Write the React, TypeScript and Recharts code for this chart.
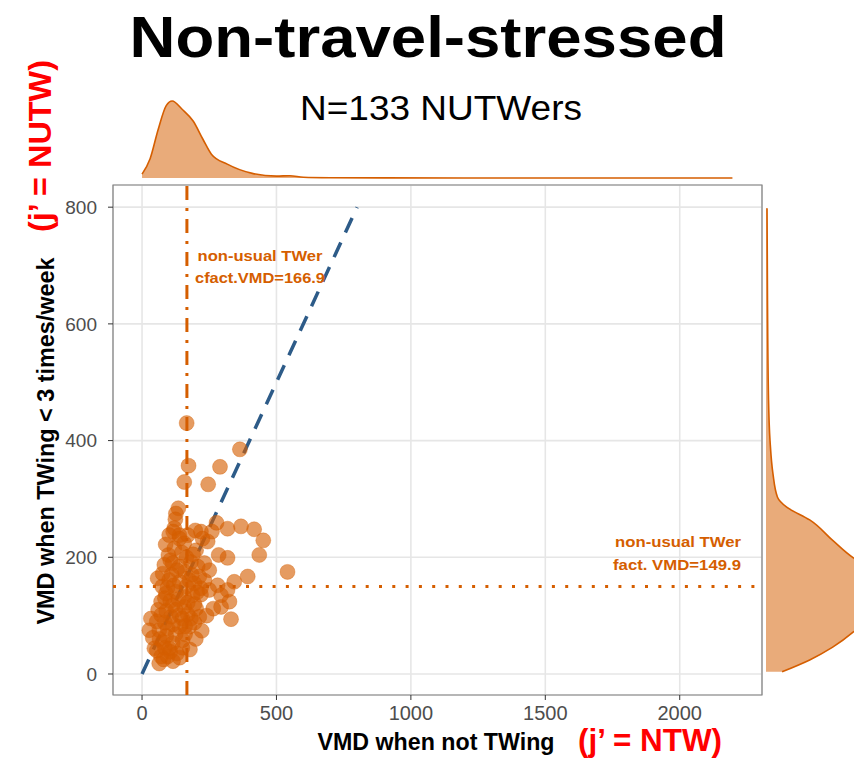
import { ScatterChart, Scatter, XAxis, YAxis, CartesianGrid, ReferenceLine, ReferenceArea, AreaChart, Area } from 'recharts';

const ORANGE = '#d55e00';
const BLUE = '#2d5b88';
const FONT = '"Liberation Sans", Arial, sans-serif';

// VMD when not TWing, one value per NUTWer
const ntwVmd = [
  166, 364, 173, 290, 157, 246, 135, 126, 124, 277, 368, 318, 417, 451, 198, 219, 260, 116, 139, 157,
  244, 225, 436, 318, 285, 541, 393, 343, 281, 250, 219, 318, 325, 294, 265, 331, 222, 178, 98, 58,
  77, 33, 27, 46, 64, 71, 101,
  101, 139, 170, 201, 114, 83, 139, 182, 207, 232, 250, 101, 176, 213, 219, 89, 126, 157, 188, 294,
  71, 114, 157, 201, 71, 108, 139, 182, 213, 64, 95, 139, 176, 77, 114, 151, 95,
  88, 120, 148, 165, 190, 105, 130, 160, 185, 110, 75, 95, 118, 140, 165, 195, 85, 105, 135, 170,
  195, 60, 90, 125, 150, 170, 55, 85, 115, 160, 195, 40, 65, 90, 125, 160, 200, 55, 85, 105,
  130, 150, 80, 115, 140, 232, 205, 240, 120,
];

// VMD when TWing < 3 times/week, same order
const nutwVmd = [
  430, 385, 357, 355, 329, 325, 284, 275, 265, 259, 253, 249, 248, 229, 246, 244, 244, 244, 238, 224,
  227, 232, 204, 199, 204, 175, 167, 158, 152, 144, 136, 144, 124, 115, 112, 94, 74, 42, 204, 164,
  172, 95, 75, 44, 18, 30, 44,
  238, 232, 238, 212, 190, 187, 184, 192, 184, 190, 178, 161, 161, 167, 147, 138, 141, 132, 135, 135,
  124, 118, 115, 112, 101, 98, 101, 95, 98, 75, 78, 81, 81, 55, 53, 58, 30,
  222, 215, 208, 200, 205, 195, 178, 175, 170, 170, 150, 148, 152, 158, 150, 155, 130, 125, 128, 122,
  120, 110, 108, 110, 95, 102, 90, 88, 85, 82, 88, 62, 60, 65, 68, 68, 60, 40, 45, 38,
  35, 45, 25, 22, 28, 160, 140, 100, 250,
];

const cfactVmd = 166.9;
const factVmd = 149.9;

const xTicks = [0, 500, 1000, 1500, 2000];
const yTicks = [0, 200, 400, 600, 800];

// marginal density of VMD when not TWing (relative to its peak)
const ntwDensityAt = [0, 30, 60, 90, 112, 150, 190, 227, 258, 317, 410, 500, 550, 600, 700, 900, 1200, 2196];
const ntwDensity = [0.05, 0.25, 0.63, 0.94, 1.0, 0.89, 0.74, 0.5, 0.31, 0.18, 0.06, 0.025, 0.03, 0.01, 0.004, 0.001, 0, 0];

// marginal density of VMD when TWing < 3 times/week (relative to its peak)
const nutwDensityAt = [3.7, 24, 46, 72, 100, 127, 152, 178, 199, 229, 264, 286, 303, 344, 400, 470, 640, 798];
const nutwDensity = [0.14, 0.38, 0.58, 0.76, 0.9, 0.97, 1.0, 0.94, 0.76, 0.58, 0.38, 0.18, 0.1, 0.06, 0.035, 0.022, 0.013, 0.009];

const X_DOMAIN: [number, number] = [-108, 2306];
const Y_DOMAIN: [number, number] = [-36, 838];

const points = ntwVmd.map((x, i) => ({ x, y: nutwVmd[i] }));
const topDensity = ntwDensityAt.map((x, i) => ({ x, d: ntwDensity[i] }));
const sideDensity = nutwDensityAt.map((y, i) => ({ y, d: nutwDensity[i] }));

const Dot = (props: any) => (
  <circle cx={props.cx} cy={props.cy} r={7.5} fill={ORANGE} fillOpacity={0.62} stroke={ORANGE} strokeOpacity={0.35} strokeWidth={1} />
);

const labelStyle = { fill: ORANGE, fontSize: 15.5, fontWeight: 'bold' as const };

export default function App() {
  return (
    <div style={{ position: 'absolute', left: 0, top: 0, width: 854, height: 760, overflow: 'hidden', background: '#fff', fontFamily: FONT }}>
      {/* top marginal density */}
      <div style={{ position: 'absolute', left: 0, top: 0 }}>
        <AreaChart width={854} height={200} data={topDensity} margin={{ top: 101, right: 92, bottom: 22, left: 113 }}>
          <XAxis dataKey="x" type="number" domain={X_DOMAIN} hide />
          <YAxis type="number" domain={[0, 1]} hide />
          <Area type="monotone" dataKey="d" stroke={ORANGE} strokeWidth={1.6} fill={ORANGE} fillOpacity={0.52} isAnimationActive={false} />
        </AreaChart>
      </div>

      {/* right marginal density */}
      <div style={{ position: 'absolute', left: 0, top: 0 }}>
        <AreaChart layout="vertical" width={980} height={760} data={sideDensity} margin={{ top: 185, right: 99, bottom: 65, left: 766 }}>
          <XAxis type="number" domain={[0, 1]} hide />
          <YAxis dataKey="y" type="number" domain={Y_DOMAIN} reversed hide />
          <Area type="monotone" dataKey="d" stroke={ORANGE} strokeWidth={1.6} fill={ORANGE} fillOpacity={0.52} isAnimationActive={false} />
        </AreaChart>
      </div>

      {/* main scatter */}
      <div style={{ position: 'absolute', left: 0, top: 0 }}>
        <ScatterChart width={854} height={760} margin={{ top: 185, right: 92, bottom: 35, left: 73 }}>
          <CartesianGrid stroke="#e6e6e6" strokeWidth={1.6} />
          <XAxis
            dataKey="x"
            type="number"
            domain={X_DOMAIN}
            ticks={xTicks}
            interval={0}
            height={30}
            axisLine={false}
            tickSize={5}
            tickMargin={6}
            tickLine={{ stroke: '#333' }}
            tick={{ fill: '#4d4d4d', fontSize: 20 }}
          />
          <YAxis
            dataKey="y"
            type="number"
            domain={Y_DOMAIN}
            ticks={yTicks}
            interval={0}
            width={40}
            axisLine={false}
            tickSize={5}
            tickMargin={11}
            tickLine={{ stroke: '#333' }}
            tick={{ fill: '#4d4d4d', fontSize: 19 }}
          />
          <ReferenceArea x1={X_DOMAIN[0]} x2={X_DOMAIN[1]} y1={Y_DOMAIN[0]} y2={Y_DOMAIN[1]} fill="none" fillOpacity={0} stroke="#808080" strokeWidth={1.2} />
          <Scatter data={points} shape={Dot} isAnimationActive={false} />
          <ReferenceLine x={cfactVmd} stroke={ORANGE} strokeWidth={3} strokeDasharray="14 8 3 8" />
          <ReferenceLine y={factVmd} stroke={ORANGE} strokeWidth={3} strokeDasharray="3 10.3" />
          <ReferenceLine segment={[{ x: 0, y: 0 }, { x: 800, y: 800 }]} stroke={BLUE} strokeWidth={3.5} strokeDasharray="16 11" />
        </ScatterChart>
      </div>

      {/* titles, axis titles and annotations */}
      <svg width={854} height={760} style={{ position: 'absolute', left: 0, top: 0, pointerEvents: 'none' }}>
        <text x={428} y={57} textAnchor="middle" fontSize={58} fontWeight="bold" fill="#000" textLength={597} lengthAdjust="spacingAndGlyphs">
          Non-travel-stressed
        </text>
        <text x={441} y={120} textAnchor="middle" fontSize={35} fill="#000" textLength={282} lengthAdjust="spacingAndGlyphs">
          N=133 NUTWers
        </text>

        <text x={260} y={261} textAnchor="middle" {...labelStyle} textLength={125} lengthAdjust="spacingAndGlyphs">
          non-usual TWer
        </text>
        <text x={260} y={283} textAnchor="middle" {...labelStyle} textLength={130} lengthAdjust="spacingAndGlyphs">
          {`cfact.VMD=${cfactVmd}`}
        </text>
        <text x={741} y={547} textAnchor="end" {...labelStyle} textLength={126} lengthAdjust="spacingAndGlyphs">
          non-usual TWer
        </text>
        <text x={741} y={570} textAnchor="end" {...labelStyle} textLength={128} lengthAdjust="spacingAndGlyphs">
          {`fact. VMD=${factVmd}`}
        </text>

        <text x={436} y={750} textAnchor="middle" fontSize={23} fontWeight="bold" fill="#000" textLength={237} lengthAdjust="spacingAndGlyphs">
          VMD when not TWing
        </text>
        <text transform="translate(54,441) rotate(-90)" textAnchor="middle" fontSize={23} fontWeight="bold" fill="#000" textLength={367} lengthAdjust="spacingAndGlyphs">
          VMD when TWing &lt; 3 times/week
        </text>

        <text x={650} y={751} textAnchor="middle" fontSize={32} fontWeight="bold" fill="#ff0000" textLength={144} lengthAdjust="spacingAndGlyphs">
          (j’ = NTW)
        </text>
        <text transform="translate(51,146) rotate(-90)" textAnchor="middle" fontSize={32} fontWeight="bold" fill="#ff0000" textLength={172} lengthAdjust="spacingAndGlyphs">
          (j’ = NUTW)
        </text>
      </svg>
    </div>
  );
}
